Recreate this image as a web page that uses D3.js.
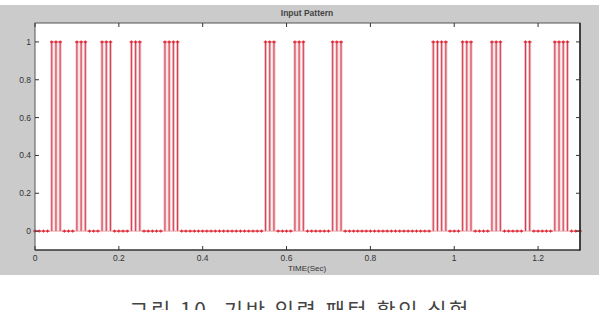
<!DOCTYPE html>
<html>
<head>
<meta charset="utf-8">
<script src="https://cdn.jsdelivr.net/npm/d3@7"></script>
<style>
  body { margin: 0; background: #fff; overflow: hidden; }
  svg text { font-family: "Liberation Sans", Arial, sans-serif; }
</style>
</head>
<body>
<div id="chart"></div>
<script>
// sampled input pattern, one value every 0.01 s from 0 to 1.30 s
var values = [
    0, 0, 0, 0, 1, 1, 1, 0, 0, 0,
    1, 1, 1, 0, 0, 0, 1, 1, 1, 0,
    0, 0, 0, 1, 1, 1, 0, 0, 0, 0,
    0, 1, 1, 1, 1, 0, 0, 0, 0, 0,
    0, 0, 0, 0, 0, 0, 0, 0, 0, 0,
    0, 0, 0, 0, 0, 1, 1, 1, 0, 0,
    0, 0, 1, 1, 1, 0, 0, 0, 0, 0,
    0, 1, 1, 1, 0, 0, 0, 0, 0, 0,
    0, 0, 0, 0, 0, 0, 0, 0, 0, 0,
    0, 0, 0, 0, 0, 1, 1, 1, 1, 0,
    0, 0, 1, 1, 1, 0, 0, 0, 0, 1,
    1, 1, 0, 0, 0, 0, 0, 1, 1, 0,
    0, 0, 0, 0, 1, 1, 1, 1, 0, 0,
    0
];
var sampleStep = 0.01;
var xTicks = [0, 0.2, 0.4, 0.6, 0.8, 1, 1.2];
var yTicks = [0, 0.2, 0.4, 0.6, 0.8, 1];
var xTickLabels = ["0", "0.2", "0.4", "0.6", "0.8", "1", "1.2"];
var yTickLabels = ["0", "0.2", "0.4", "0.6", "0.8", "1"];
var title = "Input Pattern";
var xLabel = "TIME(Sec)";
var caption = "그림 10. 기반 입력 패턴 확인 실험";

var width = 599, height = 310;
// plot box edges (top is a reserved global name, so prefix these)
var boxLeft = 35, boxRight = 580, boxTop = 23, boxBottom = 250;

var svg = d3.select("#chart")
    .append("svg")
    .attr("width", width)
    .attr("height", height);

// figure background
svg.append("rect")
    .attr("x", 0).attr("y", 5)
    .attr("width", width).attr("height", 270)
    .attr("fill", "#cbcbcb");

var x = d3.scaleLinear().domain([0, 1.3]).range([boxLeft, boxRight]);
var y = d3.scaleLinear().domain([-0.1, 1.1]).range([boxBottom, boxTop]);

svg.append("rect")
    .attr("x", boxLeft).attr("y", boxTop)
    .attr("width", boxRight - boxLeft).attr("height", boxBottom - boxTop)
    .attr("fill", "#fff");

var points = values.map(function (v, i) {
    return { t: i * sampleStep, v: v };
});

var plot = svg.append("g");

// baseline
plot.append("line")
    .attr("x1", x(0)).attr("x2", x(1.3))
    .attr("y1", y(0)).attr("y2", y(0))
    .attr("stroke", "#e58a94")
    .attr("stroke-width", 0.8);

var highs = points.filter(function (d) { return d.v > 0; });

plot.selectAll(".stemBand")
    .data(highs)
    .enter()
    .append("line")
    .attr("class", "stemBand")
    .attr("x1", function (d) { return x(d.t); })
    .attr("x2", function (d) { return x(d.t); })
    .attr("y1", y(0))
    .attr("y2", function (d) { return y(d.v); })
    .attr("stroke", "#f1c0c6")
    .attr("stroke-width", 3);

plot.selectAll(".stem")
    .data(highs)
    .enter()
    .append("line")
    .attr("class", "stem")
    .attr("x1", function (d) { return x(d.t); })
    .attr("x2", function (d) { return x(d.t); })
    .attr("y1", y(0))
    .attr("y2", function (d) { return y(d.v); })
    .attr("stroke", "#d43c4c")
    .attr("stroke-width", 1);

// markers
var marker = plot.selectAll(".marker")
    .data(points)
    .enter()
    .append("g")
    .attr("class", "marker")
    .attr("transform", function (d) {
        return "translate(" + x(d.t) + "," + y(d.v) + ")";
    });

marker.append("line")
    .attr("x1", -1.8).attr("x2", 1.8)
    .attr("stroke", "#e0202c").attr("stroke-width", 1.3);
marker.append("line")
    .attr("y1", -1.5).attr("y2", 1.5)
    .attr("stroke", "#e0202c").attr("stroke-width", 1);

// axes box with inward ticks on all sides
var axisColor = "#333";
svg.append("rect")
    .attr("x", boxLeft).attr("y", boxTop)
    .attr("width", boxRight - boxLeft).attr("height", boxBottom - boxTop)
    .attr("fill", "none")
    .attr("stroke", "#555")
    .attr("stroke-width", 1);
svg.append("line")
    .attr("x1", boxRight).attr("x2", boxRight).attr("y1", boxTop).attr("y2", boxBottom + 0.5)
    .attr("stroke", "#222").attr("stroke-width", 1.5);
svg.append("line")
    .attr("x1", boxLeft).attr("x2", boxRight).attr("y1", boxBottom).attr("y2", boxBottom)
    .attr("stroke", "#222").attr("stroke-width", 1.2);

var ticks = svg.append("g").attr("stroke", axisColor).attr("stroke-width", 1);
xTicks.forEach(function (t) {
    ticks.append("line").attr("x1", x(t)).attr("x2", x(t)).attr("y1", boxBottom).attr("y2", boxBottom - 4);
    ticks.append("line").attr("x1", x(t)).attr("x2", x(t)).attr("y1", boxTop).attr("y2", boxTop + 4);
});
yTicks.forEach(function (t) {
    ticks.append("line").attr("x1", boxLeft).attr("x2", boxLeft + 4).attr("y1", y(t)).attr("y2", y(t));
    ticks.append("line").attr("x1", boxRight).attr("x2", boxRight - 4).attr("y1", y(t)).attr("y2", y(t));
});

svg.selectAll(".xlab")
    .data(xTicks)
    .enter()
    .append("text")
    .attr("x", function (d) { return x(d); })
    .attr("y", boxBottom + 11)
    .attr("text-anchor", "middle")
    .attr("font-size", 8.5)
    .attr("fill", "#333")
    .text(function (d, i) { return xTickLabels[i]; });

svg.selectAll(".ylab")
    .data(yTicks)
    .enter()
    .append("text")
    .attr("x", boxLeft - 4)
    .attr("y", function (d) { return y(d) + 3; })
    .attr("text-anchor", "end")
    .attr("font-size", 8.5)
    .attr("fill", "#333")
    .text(function (d, i) { return yTickLabels[i]; });

svg.append("text")
    .attr("x", 307).attr("y", 16)
    .attr("text-anchor", "middle")
    .attr("font-size", 8.5)
    .attr("font-weight", "bold")
    .attr("fill", "#444")
    .text(title);

svg.append("text")
    .attr("x", 307).attr("y", 271)
    .attr("text-anchor", "middle")
    .attr("font-size", 8)
    .attr("fill", "#333")
    .text(xLabel);

// caption sits low and runs off the bottom edge, as in the scan
svg.append("text")
    .attr("x", 300).attr("y", 318)
    .attr("text-anchor", "middle")
    .attr("font-size", 21)
    .attr("letter-spacing", 2.5)
    .attr("fill", "#444")
    .style("font-family", "'Noto Sans CJK KR', sans-serif")
    .text(caption);
</script>
</body>
</html>
